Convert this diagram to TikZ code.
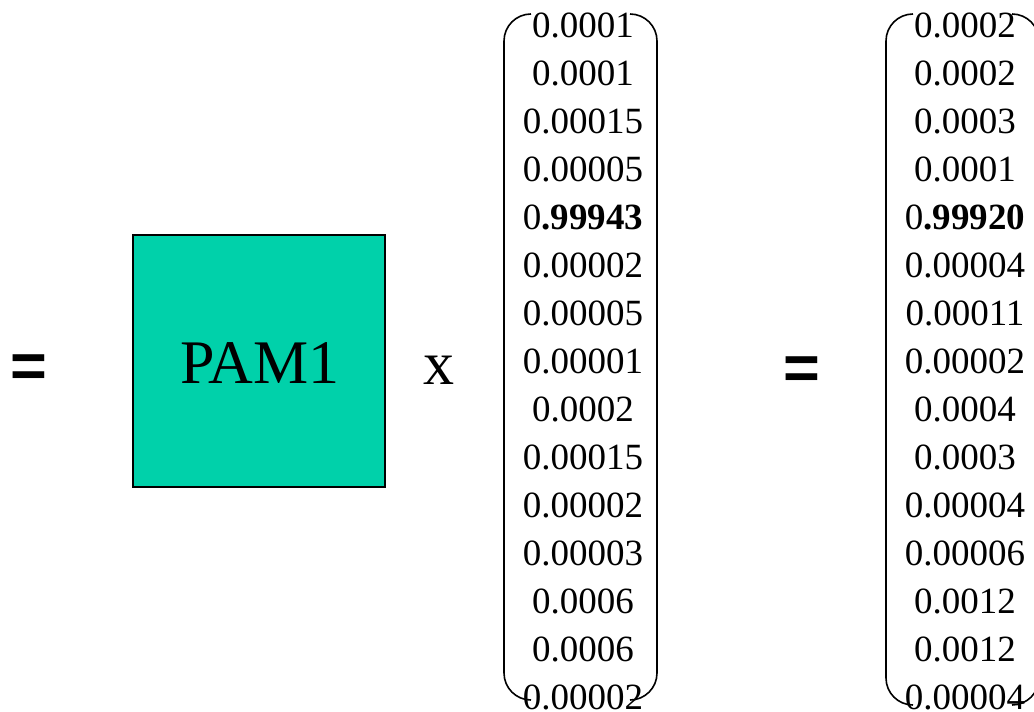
\documentclass[tikz,border=0pt]{standalone}
\usepackage{fontspec}
\setmainfont{Liberation Serif}
\newfontfamily\eqfont{Liberation Sans}
\definecolor{pamfill}{RGB}{0,209,170}
\begin{document}
\begin{tikzpicture}[x=1pt,y=-1pt,
  entry/.style={anchor=base,inner sep=0pt,font=\fontsize{37}{37}\selectfont},
  eqsign/.style={anchor=base,inner sep=0pt,font=\eqfont\bfseries\fontsize{63}{63}\selectfont},
  bracket/.style={line width=1.6pt,rounded corners=27pt},
  pambox/.style={draw=black,line width=1.6pt,fill=pamfill,minimum width=252pt,minimum height=252pt,inner sep=0pt}]
\useasboundingbox[fill=white] (0,0) rectangle (1034,712);
\clip (0,0) rectangle (1034,712);

% left-hand equals sign
\node[eqsign] (eqA) at (28.5,387) {=};

% the matrix box
\node[pambox] (pam) at (259,361) {};
\node[anchor=base,inner sep=0pt,font=\fontsize{62}{62}\selectfont] (pamlabel) at (260,383) {PAM1};

% multiplication sign
\node[anchor=base,inner sep=0pt,font=\fontsize{62}{62}\selectfont] (times) at (439,384) {x};

% first column vector
\foreach \v [count=\i from 0] in {0.0001,0.0001,0.00015,0.00005,0{\bfseries.99943},0.00002,0.00005,0.00001,0.0002,0.00015,0.00002,0.00003,0.0006,0.0006,0.00002}
  \node[entry] (a\i) at (583,37+48*\i) {\v};
\draw[bracket] (531,14) -- (504,14) -- (504,700) -- (531,700);
\draw[bracket] (630,14) -- (657,14) -- (657,700) -- (630,700);

% right-hand equals sign
\node[eqsign] (eqB) at (802,389) {=};

% resulting column vector
\foreach \v [count=\i from 0] in {0.0002,0.0002,0.0003,0.0001,0{\bfseries.99920},0.00004,0.00011,0.00002,0.0004,0.0003,0.00004,0.00006,0.0012,0.0012,0.00004}
  \node[entry] (b\i) at (965,37+48*\i) {\v};
\draw[bracket] (913,14) -- (886,14) -- (886,705) -- (913,705);
\draw[bracket] (1012,14) -- (1039,14) -- (1039,705) -- (1012,705);
\end{tikzpicture}
\end{document}
